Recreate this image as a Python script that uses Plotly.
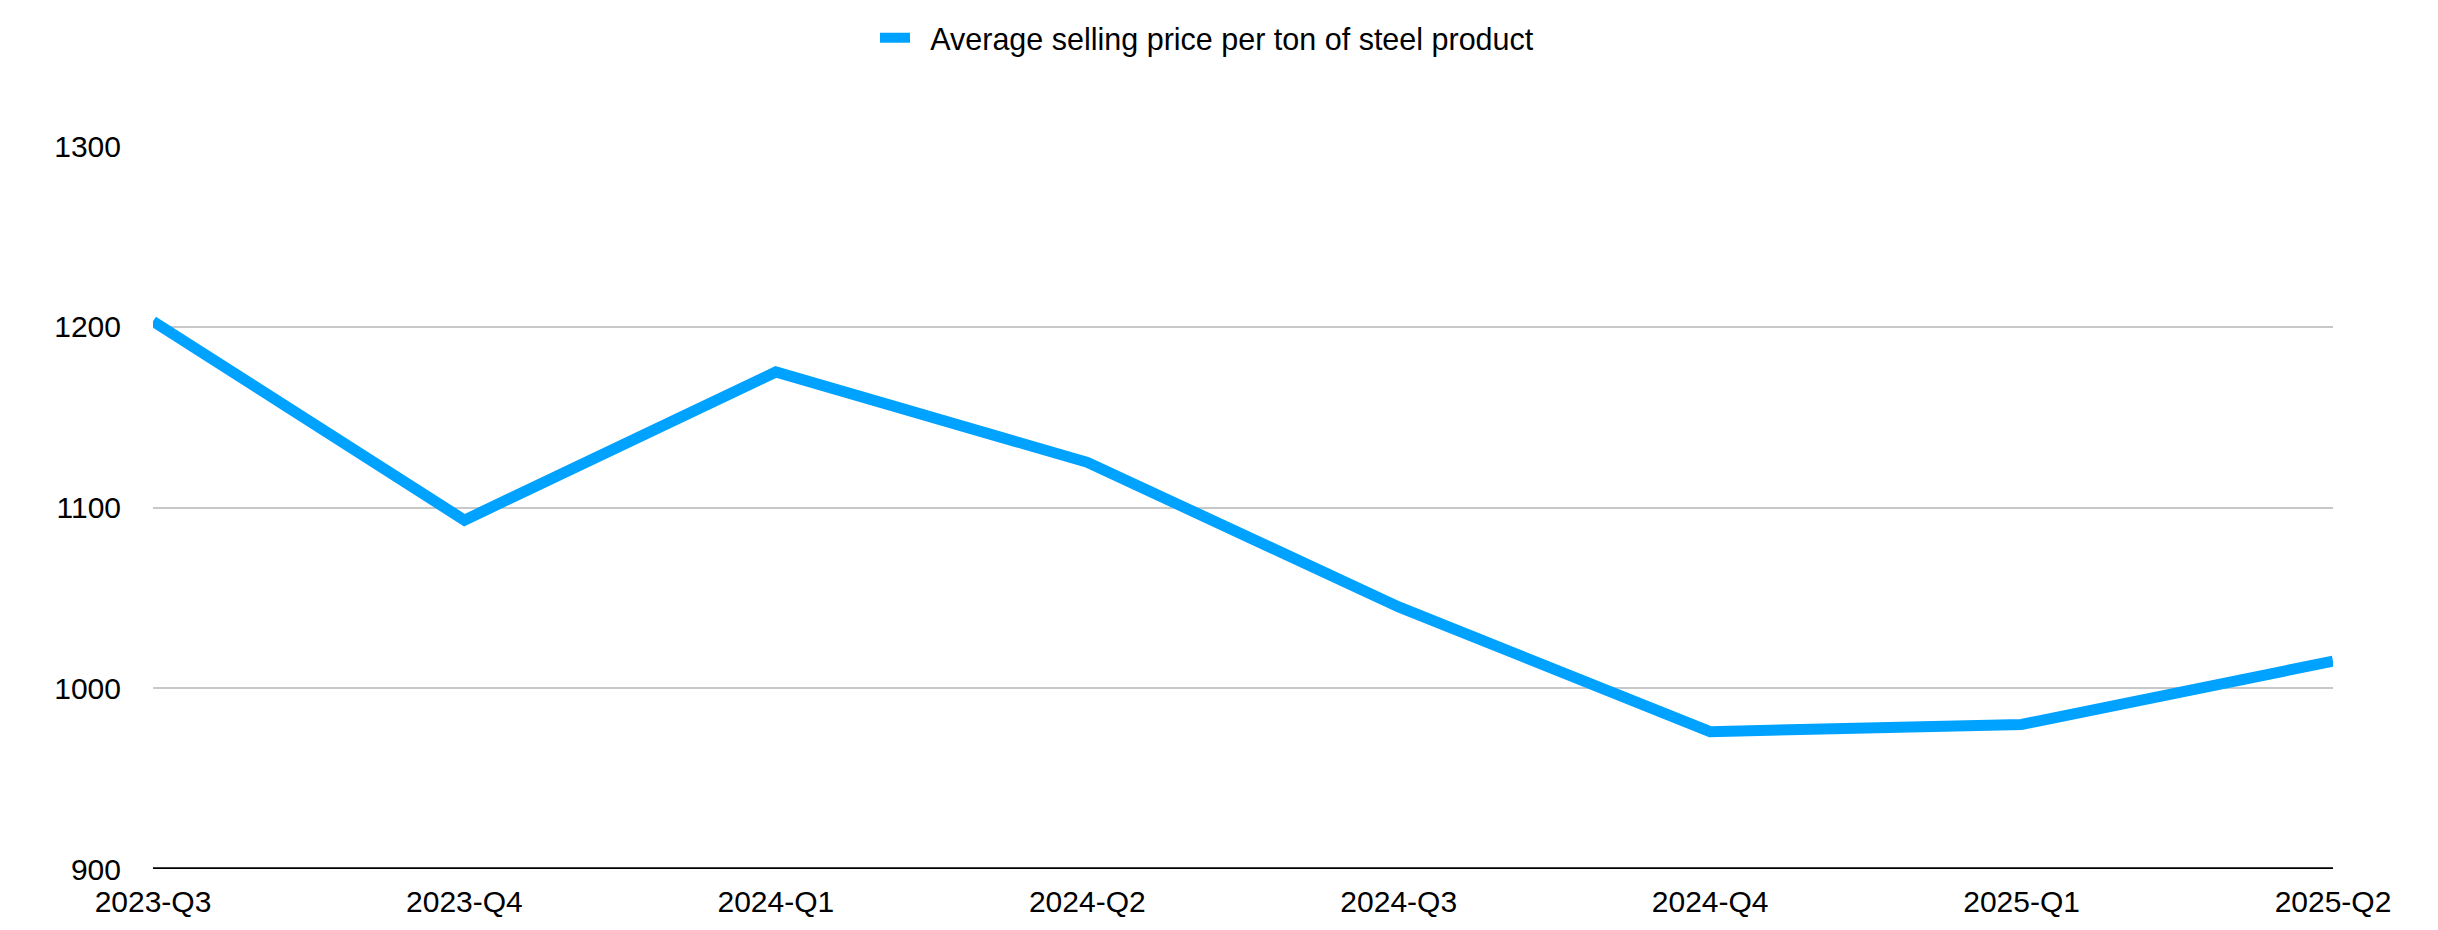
import plotly.graph_objects as go

quarters = ["2023-Q3", "2023-Q4", "2024-Q1", "2024-Q2", "2024-Q3", "2024-Q4", "2025-Q1", "2025-Q2"]
avg_price = [1203, 1093, 1175, 1125, 1045, 976, 980, 1015]
series_name = "Average selling price per ton of steel product"
y_ticks = [900, 1000, 1100, 1200, 1300]

FONT = "Liberation Sans, Arial, Helvetica, sans-serif"

fig = go.Figure()
fig.add_trace(go.Scatter(
    x=quarters, y=avg_price, mode="lines", name="\u2002" + series_name,
    line=dict(color="#00A2FF", width=11),
))

fig.update_layout(
    width=2438, height=930,
    paper_bgcolor="white", plot_bgcolor="white",
    margin=dict(l=145, r=113, t=138, b=69),
    font=dict(family=FONT, size=30, color="black"),
    showlegend=True,
    legend=dict(orientation="h", xref="container", x=0.5 - 20 / 2438, xanchor="center",
                yref="container", y=1 - 30 / 930, yanchor="middle",
                font=dict(size=30.5, color="black"), itemwidth=30),
    xaxis=dict(type="category", range=[0, len(quarters) - 1], showgrid=False,
               showline=False, zeroline=False, ticks="", ticklabelstandoff=12,
               tickfont=dict(size=30, color="black")),
    yaxis=dict(range=[900, 1300], tickvals=y_ticks, showgrid=True,
               gridcolor="#C8C8C8", gridwidth=1.7, zeroline=False, showline=False,
               ticks="", ticklabelstandoff=31, tickfont=dict(size=30, color="black")),
)

fig.add_hline(y=900, line=dict(color="black", width=3.5), layer="above")

fig.write_html("out.html")
